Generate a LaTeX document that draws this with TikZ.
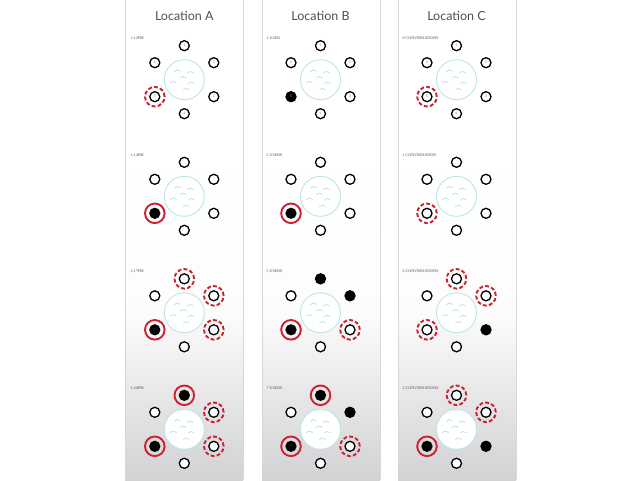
\documentclass[tikz,border=0pt]{standalone}
\usepackage{fontspec}
\setmainfont{Lato}
\newfontfamily\labfont{Liberation Serif}
\usetikzlibrary{calc}
\definecolor{ringred}{RGB}{208,32,48}
\definecolor{tabcyan}{RGB}{190,228,230}
\definecolor{wavecyan}{RGB}{178,222,226}
\definecolor{titlegrey}{RGB}{80,80,80}
\definecolor{labgrey}{RGB}{70,70,70}
\definecolor{edgegrey}{RGB}{215,215,215}
\definecolor{panelbot}{RGB}{210,210,212}
\newif\ifseatnums
\newcommand\seatno[1]{\ifseatnums#1\fi}
\tikzset{
 seatbase/.style={circle, inner sep=0pt, minimum size=10pt, line width=1.3pt, font=\fontsize{3.5}{4}\selectfont, text=gray},
 seatE/.style={seatbase, draw=black, fill=white},
 seatF/.style={seatbase, draw=black, fill=black, text=white!60!black},
 ringbase/.style={circle, inner sep=0pt, minimum size=19.6pt, line width=1.9pt, draw=ringred, font=\fontsize{3.5}{4}\selectfont, text=gray},
 seatD/.style={ringbase, dash pattern=on 3.9pt off 2.2pt, path picture={\draw[solid, draw=black, line width=1.3pt, fill=white] (path picture bounding box.center) circle[radius=5pt];}},
 seatR/.style={ringbase, path picture={\fill[black] (path picture bounding box.center) circle[radius=5.65pt];}},
 tablebox/.style={circle, inner sep=0pt, minimum size=40pt, draw=tabcyan, line width=0.9pt, fill=white},
 wave/.style={draw=wavecyan, line width=0.65pt, line cap=round, line join=round},
 title/.style={font=\fontsize{12.5}{14}\selectfont, text=titlegrey},
 lab/.style={anchor=west, font=\labfont\fontsize{4}{4.5}\selectfont, text=labgrey, inner sep=0pt},
}
\newcommand\waves[1]{%
 \foreach \dx/\dy in {-7/9, 6/7.5, -1/2.5, -11/-2.5, 7/-3, 2/-9.5}{
  \draw[wave] ([shift={(\dx pt-3pt,\dy pt-0.8pt)}]#1.center) .. controls +(1pt,1.2pt) and +(-1pt,0pt) .. ++(2.7pt,1.6pt) .. controls +(1pt,0pt) and +(-1pt,0.6pt) .. ++(3.3pt,-1.4pt);
 }}
\newcommand\mktable[9]{%
 \node[tablebox] (#1-t) at (#2,#3) {};
 \waves{#1-t}
 \node[seat#4] (#1-1) at ([yshift=34pt]#1-t.center) {\seatno1};
 \node[seat#5] (#1-2) at ([shift={(29.5pt,17pt)}]#1-t.center) {\seatno2};
 \node[seat#6] (#1-3) at ([shift={(29.5pt,-17pt)}]#1-t.center) {\seatno3};
 \node[seat#7] (#1-4) at ([yshift=-34pt]#1-t.center) {\seatno4};
 \node[seat#8] (#1-5) at ([shift={(-29.5pt,-17pt)}]#1-t.center) {\seatno5};
 \node[seat#9] (#1-6) at ([shift={(-29.5pt,17pt)}]#1-t.center) {\seatno6};
}
\begin{document}
\begin{tikzpicture}[x=1pt,y=-1pt]
\useasboundingbox (0,0) rectangle (640,480);
\fill[white] (0,0) rectangle (640,480);
\foreach \px in {125,262,398}{
  \fill[white] (\px,0) rectangle (\px+118,140);
  \shade[top color=white, bottom color=panelbot, middle color=white!94!panelbot] (\px,140) rectangle (\px+118,480);
  \draw[edgegrey, line width=0.6pt] (\px,0) -- (\px,480) (\px+118,0) -- (\px+118,480);
}
\node[title] (tA) at (184.3,15.5) {Location A};
\node[title] (tB) at (320.5,15.5) {Location B};
\node[title] (tC) at (456.5,15.5) {Location C};
% labels
\node[lab] (lA1) at (130.5,38.2) {1:12PM};
\node[lab] (lA2) at (130.5,154.8) {1:14PM};
\node[lab] (lA3) at (130.5,271.3) {1:17PM};
\node[lab] (lA4) at (130.5,387.8) {1:20PM};
\node[lab] (lB1) at (266.5,38.2) {1 USER};
\node[lab] (lB2) at (266.5,154.8) {2 USERS};
\node[lab] (lB3) at (266.5,271.3) {5 USERS};
\node[lab] (lB4) at (266.5,387.8) {7 USERS};
\node[lab] (lC1) at (402.5,38.2) {0 CONVERSATIONS};
\node[lab] (lC2) at (402.5,154.8) {1 CONVERSATION};
\node[lab] (lC3) at (402.5,271.3) {2 CONVERSATIONS};
\node[lab] (lC4) at (402.5,387.8) {2 CONVERSATIONS};
% row 1
\seatnumstrue
\mktable{A1}{184.3}{79.7}{E}{E}{E}{E}{D}{E}
\mktable{B1}{320.5}{79.7}{E}{E}{E}{E}{F}{E}
\mktable{C1}{456.5}{79.7}{E}{E}{E}{E}{D}{E}
\seatnumsfalse
% row 2
\mktable{A2}{184.3}{196.3}{E}{E}{E}{E}{R}{E}
\mktable{B2}{320.5}{196.3}{E}{E}{E}{E}{R}{E}
\mktable{C2}{456.5}{196.3}{E}{E}{E}{E}{D}{E}
% row 3
\mktable{A3}{184.3}{312.8}{D}{D}{D}{E}{R}{E}
\mktable{B3}{320.5}{312.8}{F}{F}{D}{E}{R}{E}
\mktable{C3}{456.5}{312.8}{D}{D}{F}{E}{D}{E}
% row 4
\mktable{A4}{184.3}{429.3}{R}{D}{D}{E}{R}{E}
\mktable{B4}{320.5}{429.3}{R}{F}{D}{E}{R}{E}
\mktable{C4}{456.5}{429.3}{D}{D}{F}{E}{R}{E}
\end{tikzpicture}
\end{document}
